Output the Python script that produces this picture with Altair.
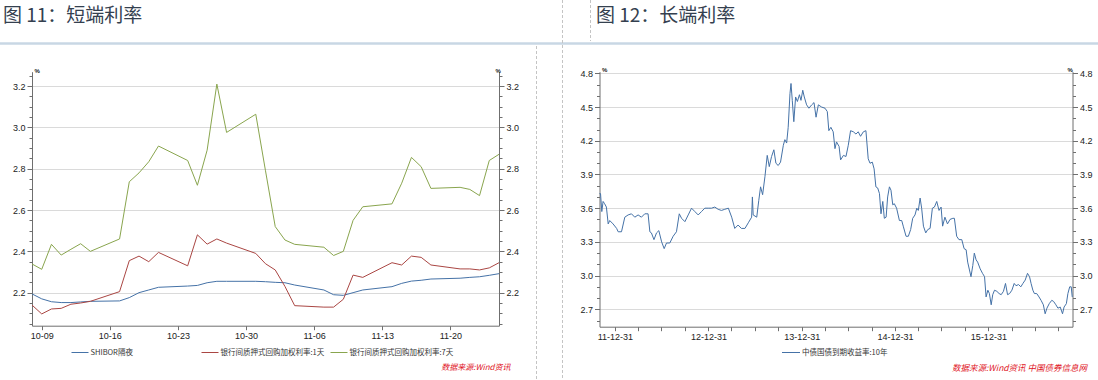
import altair as alt
import pandas as pd

W, H = 1098, 380

# ---------------- data: left panel (short-end rates, 2016) ----------------
short_dates = [
    "2016-10-08", "2016-10-09", "2016-10-10", "2016-10-11", "2016-10-12", "2016-10-13", "2016-10-14",
    "2016-10-17", "2016-10-18", "2016-10-19", "2016-10-20", "2016-10-21",
    "2016-10-24", "2016-10-25", "2016-10-26", "2016-10-27", "2016-10-28",
    "2016-10-31", "2016-11-01", "2016-11-02", "2016-11-03", "2016-11-04",
    "2016-11-07", "2016-11-08", "2016-11-09", "2016-11-10", "2016-11-11",
    "2016-11-14", "2016-11-15", "2016-11-16", "2016-11-17", "2016-11-18",
    "2016-11-21", "2016-11-22", "2016-11-23", "2016-11-24", "2016-11-25",
]
shibor_on = [
    2.194, 2.170, 2.156, 2.152, 2.152, 2.155, 2.158,
    2.160, 2.176, 2.200, 2.213, 2.226,
    2.232, 2.235, 2.248, 2.255, 2.255,
    2.255, 2.253, 2.250, 2.248, 2.237,
    2.213, 2.190, 2.187, 2.200, 2.213,
    2.229, 2.245, 2.256, 2.260, 2.266,
    2.270, 2.274, 2.277, 2.284, 2.292,
]
repo_1d = [
    2.140, 2.097, 2.121, 2.124, 2.144, 2.150, 2.158,
    2.205, 2.355, 2.377, 2.350, 2.395,
    2.330, 2.480, 2.435, 2.460, 2.440,
    2.390, 2.340, 2.310, 2.230, 2.137,
    2.130, 2.130, 2.168, 2.285, 2.274,
    2.345, 2.334, 2.377, 2.371, 2.334,
    2.315, 2.315, 2.310, 2.320, 2.345,
]
repo_7d = [
    2.339, 2.313, 2.434, 2.382, 2.410, 2.437, 2.400,
    2.460, 2.737, 2.780, 2.834, 2.910,
    2.840, 2.720, 2.890, 3.210, 2.976,
    3.064, 2.790, 2.520, 2.455, 2.434,
    2.420, 2.380, 2.400, 2.550, 2.616,
    2.630, 2.730, 2.855, 2.810, 2.705,
    2.710, 2.700, 2.670, 2.840, 2.870,
]
short_names = ["SHIBOR隔夜", "银行间质押式回购加权利率:1天", "银行间质押式回购加权利率:7天"]
short_colors = ["#4572A7", "#AA4643", "#89A54E"]

# ---------------- data: right panel (10Y CGB yield) ----------------
long_dates = [
    # 2011
    "2011-11-01", "2011-11-05", "2011-11-10", "2011-11-15", "2011-11-21", "2011-11-28", "2011-12-05", "2011-12-11", "2011-12-24",
    # 2012
    "2012-01-07", "2012-01-13", "2012-01-26", "2012-02-08", "2012-02-21", "2012-03-05", "2012-03-18", "2012-03-31",
    "2012-04-13", "2012-04-26", "2012-05-09", "2012-05-16", "2012-05-22", "2012-06-01", "2012-06-11", "2012-06-20",
    "2012-07-01", "2012-07-11", "2012-07-20", "2012-08-02", "2012-08-15", "2012-08-28", "2012-09-08", "2012-09-17",
    "2012-09-30", "2012-10-13", "2012-10-26", "2012-11-08", "2012-11-21", "2012-12-04", "2012-12-17", "2012-12-30",
    # 2013
    "2013-01-12", "2013-01-25", "2013-02-07", "2013-02-20", "2013-03-05", "2013-03-19", "2013-04-01", "2013-04-13",
    "2013-04-26", "2013-05-09", "2013-05-23", "2013-06-05", "2013-06-18", "2013-06-21", "2013-06-24", "2013-07-08",
    "2013-07-16", "2013-07-23", "2013-07-31", "2013-08-09", "2013-08-18", "2013-08-26", "2013-09-04", "2013-09-13",
    "2013-09-21", "2013-09-30", "2013-10-09", "2013-10-20", "2013-10-26", "2013-11-02", "2013-11-08", "2013-11-15",
    "2013-11-19", "2013-11-24", "2013-11-30", "2013-12-07", "2013-12-14", "2013-12-22", "2013-12-28",
    # 2014
    "2014-01-04", "2014-01-10", "2014-01-19", "2014-01-28", "2014-02-08", "2014-02-17", "2014-02-25", "2014-03-06",
    "2014-03-19", "2014-04-01", "2014-04-10", "2014-04-16", "2014-04-24", "2014-05-03", "2014-05-10", "2014-05-16",
    "2014-05-26", "2014-06-01", "2014-06-12", "2014-06-22", "2014-07-01", "2014-07-10", "2014-07-21", "2014-07-31",
    "2014-08-09", "2014-08-18", "2014-08-29", "2014-09-08", "2014-09-17", "2014-09-24", "2014-10-03", "2014-10-10",
    "2014-10-17", "2014-10-24", "2014-10-31", "2014-11-06", "2014-11-13", "2014-11-19", "2014-11-26", "2014-12-02",
    "2014-12-09", "2014-12-15", "2014-12-22", "2014-12-28",
    # 2015
    "2015-01-06", "2015-01-17", "2015-01-26", "2015-02-01", "2015-02-12", "2015-02-21", "2015-03-02", "2015-03-10",
    "2015-03-19", "2015-03-26", "2015-04-01", "2015-04-08", "2015-04-14", "2015-04-21", "2015-04-30", "2015-05-08",
    "2015-05-17", "2015-05-26", "2015-06-03", "2015-06-12", "2015-06-21", "2015-06-29", "2015-07-05", "2015-07-14",
    "2015-07-24", "2015-08-03", "2015-08-14", "2015-08-20", "2015-08-29", "2015-09-07", "2015-09-18", "2015-09-27",
    "2015-10-05", "2015-10-11", "2015-10-18", "2015-10-24", "2015-10-31", "2015-11-06", "2015-11-13", "2015-11-19",
    "2015-11-29", "2015-12-08", "2015-12-16", "2015-12-22", "2015-12-29",
    # 2016
    "2016-01-04", "2016-01-11", "2016-01-17", "2016-01-24", "2016-02-02", "2016-02-11", "2016-02-19", "2016-02-28",
    "2016-03-07", "2016-03-15", "2016-03-23", "2016-04-01", "2016-04-10", "2016-04-17", "2016-04-27", "2016-05-06",
    "2016-05-14", "2016-05-23", "2016-06-01", "2016-06-09", "2016-06-15", "2016-06-22", "2016-06-28", "2016-07-07",
    "2016-07-16", "2016-07-24", "2016-08-02", "2016-08-09", "2016-08-16", "2016-08-25", "2016-09-04", "2016-09-11",
    "2016-09-20", "2016-09-28", "2016-10-07", "2016-10-16", "2016-10-22", "2016-10-31", "2016-11-06", "2016-11-13",
    "2016-11-19", "2016-11-23",
]
cgb_10y = [
    # 2011
    3.73, 3.73, 3.57, 3.66, 3.64, 3.61, 3.46, 3.49, 3.46,
    # 2012
    3.42, 3.39, 3.39, 3.52, 3.54, 3.55, 3.52, 3.54,
    3.52, 3.55, 3.55, 3.39, 3.38, 3.32, 3.38, 3.40,
    3.30, 3.24, 3.29, 3.29, 3.35, 3.39, 3.55, 3.51,
    3.48, 3.54, 3.60, 3.57, 3.54, 3.57, 3.60, 3.60,
    # 2013
    3.60, 3.61, 3.59, 3.58, 3.59, 3.60, 3.52, 3.42,
    3.45, 3.42, 3.42, 3.47, 3.52, 3.70, 3.54, 3.52,
    3.67, 3.79, 3.72, 3.88, 4.07, 3.97, 4.06, 4.12,
    4.00, 3.98, 4.01, 4.16, 4.21, 4.18, 4.32, 4.62,
    4.71, 4.56, 4.37, 4.59, 4.55, 4.61, 4.56,
    # 2014
    4.65, 4.59, 4.52, 4.49, 4.52, 4.54, 4.41, 4.52,
    4.50, 4.49, 4.46, 4.29, 4.32, 4.28, 4.13, 4.19,
    4.15, 4.03, 4.07, 4.06, 4.16, 4.29, 4.28, 4.26,
    4.28, 4.24, 4.28, 4.29, 4.04, 4.00, 4.01, 3.95,
    3.79, 3.78, 3.73, 3.55, 3.66, 3.51, 3.52, 3.70,
    3.79, 3.76, 3.63, 3.64,
    # 2015
    3.60, 3.49, 3.49, 3.44, 3.35, 3.35, 3.41, 3.51,
    3.54, 3.60, 3.58, 3.69, 3.60, 3.44, 3.38, 3.41,
    3.42, 3.60, 3.61, 3.66, 3.58, 3.61, 3.44, 3.52,
    3.46, 3.50, 3.51, 3.51, 3.35, 3.32, 3.32, 3.24,
    3.23, 3.12, 3.05, 2.99, 3.09, 3.20, 3.14, 3.12,
    3.06, 3.02, 2.99, 2.81, 2.87,
    # 2016
    2.84, 2.74, 2.83, 2.87, 2.86, 2.84, 2.83, 2.86,
    2.93, 2.83, 2.84, 2.87, 2.93, 2.91, 2.92, 2.90,
    2.93, 2.96, 3.02, 2.99, 2.93, 2.87, 2.84, 2.84,
    2.81, 2.78, 2.74, 2.66, 2.71, 2.75, 2.78, 2.77,
    2.74, 2.71, 2.72, 2.66, 2.72, 2.75, 2.84, 2.90,
    2.90, 2.81,
]
long_name = "中债国债到期收益率:10年"
long_color = "#4572A7"

# ---------------- tick values / labels ----------------
left_x_ticks = ["2016-10-09", "2016-10-16", "2016-10-23", "2016-10-30", "2016-11-06", "2016-11-13", "2016-11-20"]
left_y_major = [2.2, 2.4, 2.6, 2.8, 3.0, 3.2]
left_y_minor = [2.05, 2.1, 2.15, 2.25, 2.3, 2.35, 2.45, 2.5, 2.55, 2.65, 2.7, 2.75,
                2.85, 2.9, 2.95, 3.05, 3.1, 3.15, 3.25]
right_x_ticks = ["2011-12-31"] + [f"{y}-{md}" for y in range(2012, 2017)
                                  for md in ("03-31", "06-30", "09-30", "12-31")][:-1]
right_y_major = [2.7, 3.0, 3.3, 3.6, 3.9, 4.2, 4.5, 4.8]
right_y_minor = [2.6, 2.8, 2.9, 3.1, 3.2, 3.4, 3.5, 3.7, 3.8, 4.0, 4.1, 4.3, 4.4, 4.6, 4.7]

title_left = "图 11：短端利率"
title_right = "图 12：长端利率"
source_left = "数据来源:Wind资讯"
source_right = "数据来源:Wind资讯 中国债券信息网"

CJK = "Noto Sans CJK SC"
LAT = "Liberation Sans"


def dt(s):
    y, m, d = (int(p) for p in s.split("-"))
    return alt.DateTime(year=y, month=m, date=d, utc=True)


df_short = pd.DataFrame({
    "date": short_dates * 3,
    "series": [short_names[0]] * len(short_dates) + [short_names[1]] * len(short_dates)
              + [short_names[2]] * len(short_dates),
    "value": shibor_on + repo_1d + repo_7d,
})
df_long = pd.DataFrame({"date": long_dates, "value": cgb_10y})
dummy = pd.DataFrame({"k": [0]})

# ---------------- scales (pixel ranges inside the 1098x380 canvas) ----------------
L_TOP, L_BOT, L_LEFT, L_RIGHT = 71.7, 325.7, 32.0, 499.0
R_TOP, R_BOT, R_LEFT, R_RIGHT = 71.7, 326.7, 599.5, 1072.5

LX = alt.Scale(type="utc", domain=[dt("2016-10-08"), dt("2016-11-25")], range=[L_LEFT, L_RIGHT], nice=False)
LY = alt.Scale(domain=[2.04, 3.27], range=[L_BOT, L_TOP], nice=False, zero=False)
RX = alt.Scale(type="utc", domain=[dt("2011-11-01"), dt("2016-11-24")], range=[R_LEFT, R_RIGHT], nice=False)
RY = alt.Scale(domain=[2.545, 4.815], range=[R_BOT, R_TOP], nice=False, zero=False)

AXC = dict(domainColor="#6f6f6f", tickColor="#6f6f6f", labelColor="#222222", labelFont=LAT,
           labelFontSize=9, title=None, domainWidth=1, tickWidth=1, labelFlush=False, labelOverlap=False)


def yaxis(orient, offset, values, major):
    if major:
        return alt.Axis(orient=orient, offset=offset, values=values, format=".1f", tickSize=5,
                        labelPadding=2, grid=(orient == "left"), gridColor="#dadada", gridWidth=1, **AXC)
    return alt.Axis(orient=orient, offset=offset, values=values, labels=False, tickSize=3,
                    grid=False, domain=False, **AXC)


layers = []

# left panel lines
layers.append(
    alt.Chart(df_short).mark_line(strokeWidth=1).encode(
        x=alt.X("date:T", scale=LX,
                axis=alt.Axis(orient="bottom", offset=L_BOT - H, values=[dt(s) for s in left_x_ticks],
                              format="%m-%d", tickSize=4, labelPadding=2, grid=False, **AXC)),
        y=alt.Y("value:Q", scale=LY, axis=yaxis("left", -L_LEFT, left_y_major, True)),
        color=alt.Color("series:N", scale=alt.Scale(domain=short_names, range=short_colors), legend=None),
    )
)
for orient, off, vals, major in [("left", -L_LEFT, left_y_minor, False),
                                 ("right", L_RIGHT - W, left_y_major, True),
                                 ("right", L_RIGHT - W, left_y_minor, False)]:
    layers.append(
        alt.Chart(df_short).mark_point(opacity=0, size=1).encode(
            x=alt.X("date:T", scale=LX, axis=None),
            y=alt.Y("value:Q", scale=LY, axis=yaxis(orient, off, vals, major)),
        )
    )

# right panel line
layers.append(
    alt.Chart(df_long).mark_line(strokeWidth=1, color=long_color).encode(
        x=alt.X("date:T", scale=RX,
                axis=alt.Axis(orient="bottom", offset=R_BOT - H, values=[dt(s) for s in right_x_ticks],
                              labelExpr="utcmonth(datum.value) == 11 ? utcFormat(datum.value, '%y-%m-%d') : ''",
                              tickSize=4, labelPadding=2, grid=False, **AXC)),
        y=alt.Y("value:Q", scale=RY, axis=yaxis("left", -R_LEFT, right_y_major, True)),
    )
)
for orient, off, vals, major in [("left", -R_LEFT, right_y_minor, False),
                                 ("right", R_RIGHT - W, right_y_major, True),
                                 ("right", R_RIGHT - W, right_y_minor, False)]:
    layers.append(
        alt.Chart(df_long).mark_point(opacity=0, size=1).encode(
            x=alt.X("date:T", scale=RX, axis=None),
            y=alt.Y("value:Q", scale=RY, axis=yaxis(orient, off, vals, major)),
        )
    )


# ---------------- decorations ----------------
def rule(x1, y1, x2, y2, color, width=1.0, dash=None):
    kw = dict(color=color, strokeWidth=width)
    if dash:
        kw["strokeDash"] = dash
    return alt.Chart(dummy).mark_rule(**kw).encode(
        x=alt.value(x1), y=alt.value(y1), x2=alt.value(x2), y2=alt.value(y2))


def label(x, y, txt, size, color="#333333", align="left", baseline="middle", font=CJK,
          style="normal", weight="normal"):
    return alt.Chart(dummy).mark_text(text=txt, align=align, baseline=baseline, font=font,
                                      fontSize=size, color=color, fontStyle=style,
                                      fontWeight=weight).encode(x=alt.value(x), y=alt.value(y))


layers += [
    label(3, 22, title_left, 19, color="#34404f", baseline="alphabetic"),
    label(596, 22, title_right, 19, color="#34404f", baseline="alphabetic"),
    rule(0, 43.5, W, 43.5, "#c8d7e4", 2.5),
    rule(562.5, 0, 562.5, H, "#c4c4c4", 1, [3, 2]),
    rule(590.5, 0, 590.5, 41, "#c4c4c4", 1, [3, 2]),
    rule(536.5, 46, 536.5, H, "#c4c4c4", 1, [3, 2]),
    label(34.5, 70.5, "%", 6, color="#222222", font=LAT, weight="bold"),
    label(495.5, 71, "%", 6, color="#222222", font=LAT, weight="bold"),
    label(602, 69.5, "%", 6, color="#222222", font=LAT, weight="bold"),
    label(1067.5, 69.5, "%", 6, color="#222222", font=LAT, weight="bold"),
    label(510.5, 367.5, source_left, 8, color="#e0141e", align="right", style="italic"),
    label(1087, 367.5, source_right, 8.5, color="#e0141e", align="right", style="italic"),
]

legend_x = [71.5, 201.5, 330.5]
for name, col, lx in zip(short_names, short_colors, legend_x):
    layers.append(rule(lx, 352.5, lx + 17, 352.5, col, 1))
    layers.append(label(lx + 19, 352.5, name, 7.5))
layers.append(rule(782, 352.5, 800, 352.5, long_color, 1))
layers.append(label(802, 352.5, long_name, 7.5))

chart = (
    alt.layer(*layers)
    .resolve_scale(x="independent", y="independent", color="independent")
    .properties(width=W, height=H, autosize=alt.AutoSizeParams(type="none"), padding=0)
    .configure(background="white")
    .configure_view(stroke=None)
)

chart.save("out.html", embed_options={"renderer": "svg", "actions": False})
